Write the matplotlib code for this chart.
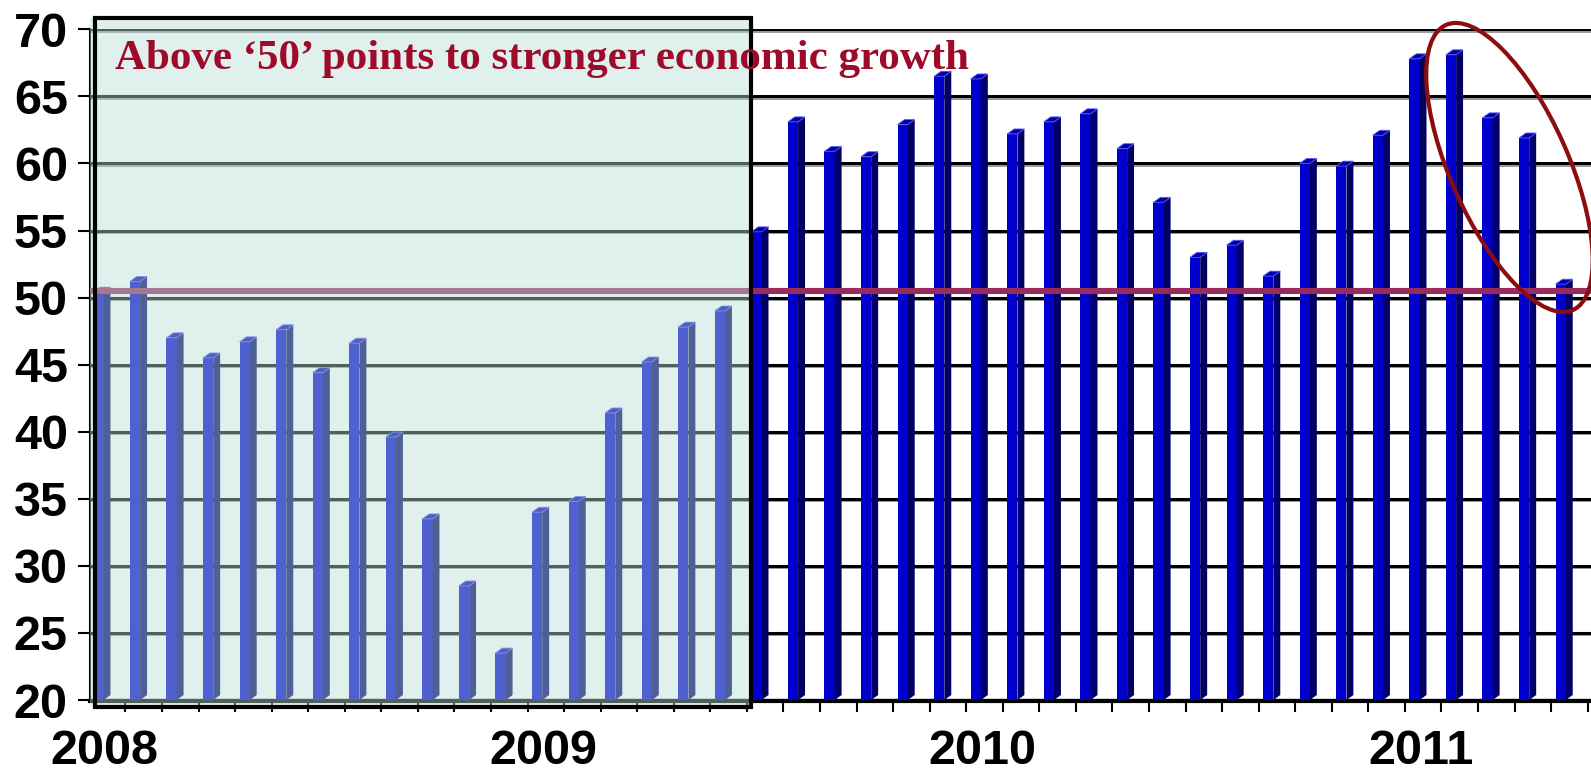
import matplotlib
matplotlib.use('Agg')
import matplotlib.pyplot as plt
from matplotlib.patches import Rectangle, Polygon, Ellipse
from matplotlib.transforms import offset_copy, IdentityTransform

# monthly index readings, Jan 2008 .. May 2011
values = [50.4, 51.2, 47.0, 45.5, 46.7, 47.6, 44.4, 46.6, 39.6, 33.5, 28.5, 23.5,
          34.0, 34.8, 41.4, 45.2, 47.8, 49.0, 54.9, 63.1, 60.9, 60.5, 62.9, 66.5,
          66.3, 62.2, 63.1, 63.7, 61.1, 57.1, 53.0, 53.9, 51.6, 60.0, 59.8, 62.1,
          67.8, 68.1, 63.4, 61.9, 51.0]
years = ['2008', '2009', '2010', '2011']
threshold = 50.5
shaded_months = 18   # first 18 months sit under the shaded box
note = 'Above \u201850\u2019 points to stronger economic growth'

W, H = 1591, 773
fig = plt.figure(figsize=(W / 100, H / 100), dpi=100)
ax = fig.add_axes([90 / W, 0.0927, 1 - 90 / W, 0.8694])
ax.set_xlim(-0.23, 40.83)
ax.set_ylim(19.9, 70)

base = 20
fw, sw, dy = 0.14, 0.19, 0.37   # half front width, side width, depth
front_c, side_c, top_c = '#0000cc', '#000066', '#0000a8'

n = len(values)
x = list(range(n))
ax.bar(x, [v - base for v in values], bottom=base, width=2 * fw,
       color=front_c, edgecolor='none', zorder=3)
for i, v in zip(x, values):
    x1 = i + fw
    side = Polygon([(x1, base), (x1 + sw, base + dy), (x1 + sw, v + dy), (x1, v)],
                   closed=True, facecolor=side_c, edgecolor='none', zorder=3)
    top = Polygon([(i - fw, v), (i - fw + sw, v + dy), (x1 + sw, v + dy), (x1, v)],
                  closed=True, facecolor=top_c, edgecolor='#5a5aff', lw=0.6, zorder=3)
    ax.add_patch(side)
    ax.add_patch(top)

# back-wall grid: black line with grey shadow underneath
shadow = offset_copy(ax.transData, fig=fig, y=-2.5, units='dots')
for g in range(25, 71, 5):
    ax.axhline(g, color='black', lw=2.2, zorder=1)
    ax.plot([-0.23, 40.83], [g, g], color='#9a9a9a', lw=1.4, zorder=0.9,
            transform=shadow)
ax.axhline(base, color='#8a8a8a', lw=2.5, zorder=2)

ax.axhline(threshold, color='#992a5c', lw=4.4, zorder=4)

# shaded period box
box = Rectangle((-0.23, 19.48), 17.85 + 0.23, 70.86 - 19.48,
                facecolor=(184 / 255, 221 / 255, 215 / 255), alpha=0.435,
                edgecolor='none', zorder=5, clip_on=False)
ax.add_patch(box)
border = Rectangle((-0.1, 19.48), 17.85 + 0.1, 70.86 - 19.48, facecolor='none',
                   edgecolor='black', lw=3, zorder=6, clip_on=False)
ax.add_patch(border)

ax.text(0.45, 67.75, note, fontsize=31, fontweight='bold', color='#9e0b2a',
        family='Liberation Serif', ha='left', va='center', zorder=7)

# circle the latest readings
cx, cy = ax.transData.transform((38.6, 59.7))
ax.add_patch(Ellipse((cx, cy), 118, 312, angle=24, facecolor='none',
                     edgecolor='#8b0d0d', lw=3, transform=IdentityTransform(),
                     zorder=8, clip_on=False))

for s in ['top', 'right']:
    ax.spines[s].set_visible(False)
ax.spines['left'].set_linewidth(1.5)
ax.spines['bottom'].set_linewidth(3)
ax.spines['left'].set_bounds(19.9, 70)

ax.set_yticks(range(20, 71, 5))
ax.set_yticklabels([str(t) for t in range(20, 71, 5)], fontsize=35,
                   fontweight='bold', family='Liberation Sans')
ax.tick_params(axis='y', length=9, width=1.5, pad=7)

ax.set_xticks([i + 0.74 for i in range(n)], minor=True)
ax.set_xticks([12 * k + 0.17 for k in range(len(years))])
ax.set_xticklabels(years, fontsize=35, fontweight='bold', family='Liberation Sans')
ax.tick_params(axis='x', which='major', length=0, pad=20)
ax.tick_params(axis='x', which='minor', length=8, width=1.5)

fig.savefig('out.png', dpi=100)
